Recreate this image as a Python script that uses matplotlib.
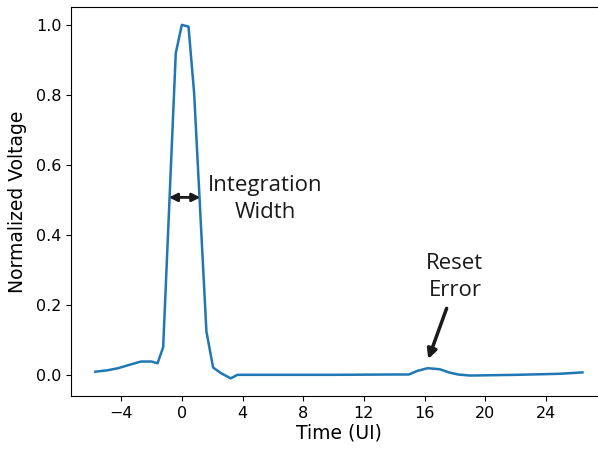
import matplotlib
matplotlib.use("Agg")
import matplotlib.pyplot as plt

# pulse response
time_ui = [-5.7, -4.9, -4.2, -3.5, -2.7, -2.0, -1.6, -1.23, -0.4, 0.0, 0.44,
           0.81, 1.62, 2.06, 2.57, 3.22, 3.66, 6.0, 10.0, 14.0, 14.96, 15.5,
           16.2, 17.0, 17.6, 18.2, 19.0, 22.0, 24.9, 26.4]
voltage = [0.009, 0.013, 0.019, 0.028, 0.038, 0.038, 0.033, 0.079, 0.919, 1.0,
           0.995, 0.805, 0.124, 0.021, 0.005, -0.01, 0.0, 0.0, 0.0, 0.001,
           0.001, 0.011, 0.019, 0.016, 0.007, 0.001, -0.002, 0.0, 0.003, 0.007]
xticks = [-4, 0, 4, 8, 12, 16, 20, 24]
yticks = [0.0, 0.2, 0.4, 0.6, 0.8, 1.0]

note_font = "Open Sans"
ink = "#1a1a1a"

fig = plt.figure(figsize=(5.98, 4.49), dpi=100)
ax = fig.add_axes([0.1187, 0.118, 0.896, 0.866])

ax.plot(time_ui, voltage, color="#1f77b4", lw=1.8)
ax.set_xticks(xticks)
ax.set_yticks(yticks)
ax.tick_params(labelsize=11.5)
ax.set_xlabel("Time (UI)", fontsize=13.5, labelpad=2)
ax.set_ylabel("Normalized Voltage", fontsize=13.5, labelpad=6)

# integration width marker
ax.annotate("", xy=(-0.85, 0.507), xytext=(1.22, 0.507),
            arrowprops=dict(arrowstyle="<|-|>", color=ink, lw=2,
                            mutation_scale=12, shrinkA=0, shrinkB=0))
ax.text(5.5, 0.503, "Integration\nWidth", fontsize=16, family=note_font,
        ha="center", va="center", linespacing=1.37, color=ink)

# reset error marker
ax.annotate("", xy=(16.24, 0.045), xytext=(17.45, 0.19),
            arrowprops=dict(arrowstyle="-|>", color=ink, lw=2.5,
                            mutation_scale=14, shrinkA=0, shrinkB=0))
ax.text(18.0, 0.279, "Reset\nError", fontsize=16, family=note_font,
        ha="center", va="center", linespacing=1.37, color=ink)

fig.savefig("out.png", dpi=100)
